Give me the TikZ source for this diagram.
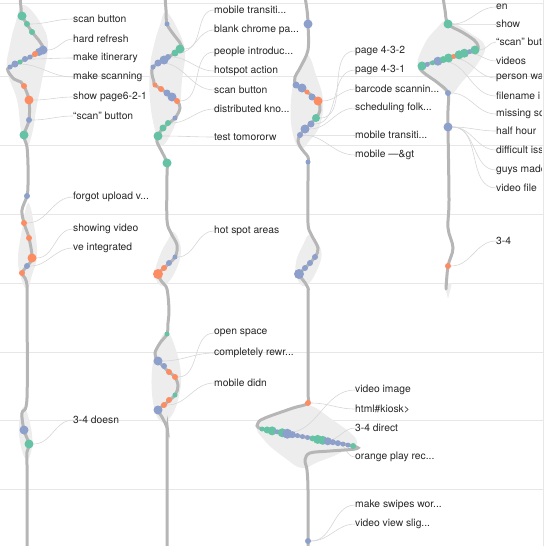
\documentclass[tikz,border=0pt]{standalone}
\usepackage{fontspec}
\setmainfont{TeX Gyre Heros}
\pgfdeclarelayer{bg}
\pgfdeclarelayer{mid}
\pgfsetlayers{bg,mid,main}
\definecolor{bl}{RGB}{141,160,203}
\definecolor{gr}{RGB}{102,194,165}
\definecolor{og}{RGB}{252,141,98}
\definecolor{spg}{RGB}{182,182,182}
\definecolor{lng}{RGB}{237,237,237}
\definecolor{rlg}{RGB}{231,231,231}
\definecolor{ldg}{RGB}{214,214,214}
\begin{document}
\begin{tikzpicture}[x=1pt,y=-1pt,
  dt/.style={circle,inner sep=0pt,minimum size=#1},
  bd/.style={dt=#1,fill=bl},gd/.style={dt=#1,fill=gr},od/.style={dt=#1,fill=og},
  lb/.style={anchor=west,inner sep=0pt,text=black!85,font=\fontsize{10.3}{12}\selectfont},
  ld/.style={draw=ldg,line width=0.6pt},
  sp/.style={draw=spg,line width=3pt,line cap=round,smooth,tension=0.55},
  ln/.style={fill=lng,smooth cycle,tension=0.7}]
\useasboundingbox (0,0) rectangle (546,546);
% rules and lenses
\begin{pgfonlayer}{bg}
\foreach \y in {3,76,145,214,283,352,420,489} \draw[rlg,line width=1pt] (0,\y) -- (543,\y);
\draw[rlg,line width=1pt] (543,0) -- (543,546);
\fill[ln] plot coordinates {(23,5) (40,22) (48,45) (42,80) (36,110) (33,130) (27,146) (21,130) (17,100) (7,70) (10,45) (15,25)};
\fill[ln] plot coordinates {(28,203) (34,225) (37,255) (32,275) (27,289) (21,278) (18,258) (22,230)};
\fill[ln] plot coordinates {(24,407) (31,428) (32,447) (27,460) (21,447) (19,425)};
\fill[ln] plot coordinates {(166,12) (178,30) (185,52) (182,80) (180,105) (175,125) (162,146) (155,130) (150,100) (150,68) (154,45) (160,25)};
\fill[ln] plot coordinates {(174,232) (181,250) (175,272) (163,286) (155,275) (160,255) (168,240)};
\fill[ln] plot coordinates {(167,332) (176,350) (181,376) (178,400) (170,418) (160,421) (153,402) (152,370) (158,345)};
\fill[ln] plot coordinates {(307,55) (316,75) (323,100) (320,125) (310,140) (300,149) (292,130) (291,100) (296,75)};
\fill[ln] plot coordinates {(310,235) (321,250) (318,268) (306,286) (297,278) (296,262) (303,245)};
\fill[ln] plot coordinates {(258,425) (285,412) (307,405) (330,418) (357,441) (340,453) (318,462) (302,468) (285,458) (265,441)};
\fill[ln] plot coordinates {(448,21) (470,33) (485,46) (478,63) (462,82) (450,94) (435,82) (418,68) (424,45) (437,28)};
\fill[lng] (444,283) -- (452,283) -- (448,299) -- cycle;
\end{pgfonlayer}
% first column
\node[gd=9] (A1) at (22,16) {}; \node[gd=6] (A2) at (27,24) {}; \node[gd=6] (A3) at (32,32) {};
\node[bd=9] (A4) at (43,50) {}; \node[bd=8] (A5) at (39,52) {}; \node[od=6] (A6) at (35,54) {};
\node[bd=5] (A7) at (30,57) {}; \node[bd=6] (A8) at (25,59) {}; \node[gd=5] (A9) at (20,62) {};
\node[bd=7] (A10) at (15,64) {}; \node[bd=5] (A11) at (10,67) {};
\node[od=6] (A12) at (24,86) {}; \node[od=9] (A13) at (29,100) {}; \node[bd=6] (A14) at (29,120) {};
\node[gd=9] (A15) at (24,135) {}; \node[bd=6] (A16) at (27,196) {};
\node[od=6] (A17) at (24,223) {}; \node[od=6] (A18) at (29,238) {}; \node[od=9] (A19) at (32,258) {};
\node[bd=6] (A20) at (27,266) {}; \node[od=6] (A21) at (22,273) {};
\node[bd=9] (A22) at (24,430) {}; \node[gd=9] (A23) at (29,444) {};
\node[lb] (a1) at (73,19) {scan button};
\node[lb] (a2) at (73,39) {hard refresh};
\node[lb] (a3) at (73,58) {make itinerary};
\node[lb] (a4) at (73,77) {make scanning};
\node[lb] (a5) at (73,97) {show page6-2-1};
\node[lb] (a6) at (73,116) {“scan” button};
\node[lb] (a7) at (73,197) {forgot upload v...};
\node[lb] (a8) at (73,229) {showing video};
\node[lb] (a9) at (73,248) {ve integrated};
\node[lb] (a10) at (73,420) {3-4 doesn};
% second column
\node[bd=5] (B1) at (167,24) {}; \node[gd=9] (B2) at (180,49) {}; \node[gd=7] (B3) at (175,53) {};
\node[bd=6] (B4) at (168,57) {}; \node[bd=9] (B5) at (164,60) {}; \node[bd=7] (B6) at (158,63) {};
\node[bd=5] (B7) at (153,67) {}; \node[od=5] (B8) at (155,85) {}; \node[od=6] (B9) at (161,89) {};
\node[bd=7] (B10) at (167,93) {}; \node[bd=9] (B11) at (172,97) {}; \node[od=6] (B12) at (177,101) {};
\node[bd=5] (B13) at (175,118) {}; \node[gd=6] (B14) at (168,123) {}; \node[gd=7] (B15) at (163,128) {};
\node[gd=9] (B16) at (158,136) {}; \node[gd=9] (B17) at (167,163) {};
\node[bd=5] (B18) at (175,257) {}; \node[bd=6] (B19) at (169,263) {}; \node[od=6] (B20) at (164,268) {};
\node[od=10] (B21) at (158,274) {}; \node[gd=5] (B22) at (167,334) {};
\node[bd=9] (B23) at (158,361) {}; \node[bd=6] (B24) at (164,366) {}; \node[od=6] (B25) at (169,372) {};
\node[od=6] (B26) at (175,377) {}; \node[gd=5] (B27) at (175,395) {}; \node[od=6] (B28) at (169,400) {};
\node[od=6] (B29) at (164,405) {}; \node[bd=9] (B30) at (158,410) {};
\node[lb] (b1) at (214,10) {mobile transiti...};
\node[lb] (b2) at (214,30) {blank chrome pa...};
\node[lb] (b3) at (214,52) {people introduc...};
\node[lb] (b4) at (214,71) {hotspot action};
\node[lb] (b5) at (214,90) {scan button};
\node[lb] (b6) at (214,109) {distributed kno...};
\node[lb] (b7) at (214,137) {test tomororw};
\node[lb] (b8) at (214,231) {hot spot areas};
\node[lb] (b9) at (214,333) {open space};
\node[lb] (b10) at (214,353) {completely rewr...};
\node[lb] (b11) at (214,383) {mobile didn};
% third column
\node[bd=9] (C1) at (308,24) {}; \node[bd=7] (C2) at (296,85) {}; \node[bd=9] (C3) at (302,88) {};
\node[od=5] (C4) at (307,92) {}; \node[bd=7] (C5) at (312,97) {}; \node[od=9] (C6) at (318,101) {};
\node[gd=8] (C7) at (316,118) {}; \node[bd=7] (C8) at (311,124) {}; \node[bd=9] (C9) at (305,129) {};
\node[bd=6] (C10) at (300,135) {}; \node[bd=5] (C11) at (308,162) {};
\node[bd=6] (C12) at (315,257) {}; \node[bd=6] (C13) at (310,263) {}; \node[bd=6] (C14) at (305,268) {};
\node[bd=10] (C15) at (299,274) {}; \node[od=6] (C16) at (308,403) {}; \node[bd=6] (C17) at (308,541) {};
\foreach \c/\s [count=\i] in {gr/5,gr/7,gr/9,bl/5,gr/9,bl/10,bl/7,bl/5,bl/5,bl/5,gr/6,gr/9,gr/9,bl/8,bl/6,bl/6,bl/5,bl/5,gr/6}
  \node[dt=\s,fill=\c] (R\i) at ({262+5.06*(\i-1)},{429+0.944*(\i-1)}) {};
\node[lb] (c1) at (355,51) {page 4-3-2};
\node[lb] (c2) at (355,70) {page 4-3-1};
\node[lb] (c3) at (355,89) {barcode scannin...};
\node[lb] (c4) at (355,108) {scheduling folk...};
\node[lb] (c5) at (355,135) {mobile transiti...};
\node[lb] (c6) at (355,155) {mobile —\&gt};
\node[lb] (c7) at (355,390) {video image};
\node[lb] (c8) at (355,409) {html\#kiosk>};
\node[lb] (c9) at (355,428) {3-4 direct};
\node[lb] (c10) at (355,457) {orange play rec...};
\node[lb] (c11) at (355,505) {make swipes wor...};
\node[lb] (c12) at (355,524) {video view slig...};
% fourth column
\node[gd=9] (D1) at (448,24) {};
\foreach \c/\s [count=\i] in {gr/9,bl/5,gr/5,bl/9,gr/7,gr/9,og/5,gr/9,gr/9,bl/5,gr/9}
  \node[dt=\s,fill=\c] (S\i) at ({422+5.3*(\i-1)},{66-1.6*(\i-1)}) {};
\node[bd=6] (D2) at (448,93) {}; \node[bd=9] (D3) at (448,127) {}; \node[od=6] (D4) at (448,266) {};
\begin{scope}
\clip (0,0) rectangle (541,546);
\node[lb] (d1) at (496,7) {en};
\node[lb] (d2) at (496,24) {show};
\node[lb] (d3) at (496,42) {“scan” but};
\node[lb] (d4) at (496,61) {videos};
\node[lb] (d5) at (496,78) {person wa};
\node[lb] (d6) at (496,96) {filename i};
\node[lb] (d7) at (496,114) {missing sc};
\node[lb] (d8) at (496,131) {half hour};
\node[lb] (d9) at (496,150) {difficult iss};
\node[lb] (d10) at (496,170) {guys made};
\node[lb] (d11) at (496,188) {video file};
\node[lb] (d12) at (496,241) {3-4};
\end{scope}
% leaders and spines
\begin{pgfonlayer}{mid}
\draw[ld] (A2) to[out=0,in=180] (a1.west); \draw[ld] (A4) to[out=0,in=180] (a2.west);
\draw[ld] (A8) to[out=0,in=180] (a3.west); \draw[ld] (A10) to[out=0,in=180] (a4.west);
\draw[ld] (A13) to[out=0,in=180] (a5.west); \draw[ld] (A14) to[out=0,in=180] (a6.west);
\draw[ld] (A17) to[out=0,in=180] (a7.west); \draw[ld] (A19) to[out=0,in=180] (a8.west);
\draw[ld] (A20) to[out=0,in=180] (a9.west); \draw[ld] (A23) to[out=0,in=180] (a10.west);
\draw[ld] (B2) to[out=0,in=180] (b1.west); \draw[ld] (B3) to[out=0,in=180] (b2.west);
\draw[ld] (B12) to[out=0,in=180] (b3.west); \draw[ld] (B4) to[out=0,in=180] (b4.west);
\draw[ld] (B6) to[out=0,in=180] (b5.west); \draw[ld] (B14) to[out=0,in=180] (b6.west);
\draw[ld] (B16) to[out=0,in=180] (b7.west); \draw[ld] (B18) to[out=0,in=180] (b8.west);
\draw[ld] (B26) to[out=0,in=180] (b9.west); \draw[ld] (B23) to[out=0,in=180] (b10.west);
\draw[ld] (B29) to[out=0,in=180] (b11.west);
\draw[ld] (C7) to[out=0,in=180] (c1.west); \draw[ld] (C8) to[out=0,in=180] (c2.west);
\draw[ld] (C6) to[out=0,in=180] (c3.west); \draw[ld] (C9) to[out=0,in=180] (c4.west);
\draw[ld] (C10) to[out=0,in=180] (c5.west); \draw[ld] (C10) to[out=0,in=180] (c6.west);
\draw[ld] (R5) to[out=0,in=180] (c7.west); \draw[ld] (C16) to[out=0,in=180] (c8.west);
\draw[ld] (R13) to[out=0,in=180] (c9.west); \draw[ld] (R15) to[out=0,in=180] (c10.west);
\draw[ld] (C17) to[out=0,in=180] (c11.west); \draw[ld] (C17) to[out=0,in=180] (c12.west);
\draw[ld] (D1) to[out=0,in=180] (d1.west); \draw[ld] (D1) to[out=0,in=180] (d2.west);
\draw[ld] (S11) to[out=0,in=180] (d3.west); \draw[ld] (S9) to[out=0,in=180] (d4.west);
\draw[ld] (S6) to[out=0,in=180] (d5.west); \draw[ld] (S4) to[out=0,in=180] (d6.west);
\draw[ld] (D2) to[out=0,in=180] (d7.west); \draw[ld] (D3) to[out=0,in=180] (d8.west);
\draw[ld] (D3) to[out=0,in=180] (d9.west); \draw[ld] (D3) to[out=0,in=180] (d10.west);
\draw[ld] (D3) to[out=0,in=180] (d11.west); \draw[ld] (D4) to[out=0,in=180] (d12.west);
\draw[sp] plot coordinates {(20,-3) (21,8) (A1.center) (A2.center) (A3.center) (40,42) (A4.center) (A7.center) (A11.center) (8,71) (14,79) (21,82) (A12.center) (A13.center) (A14.center) (A15.center) (27,147) (28,165) (28,185) (A16.center) (22,210) (A17.center) (A18.center) (A19.center) (A20.center) (A21.center) (25,278) (27,285) (27,300) (27,398) (22,413) (A22.center) (A23.center) (27,452) (27,465) (27,549)};
\draw[sp] plot coordinates {(165,-3) (166,10) (B1.center) (174,35) (180,43) (B2.center) (B5.center) (B7.center) (152,74) (154,82) (B8.center) (B10.center) (B12.center) (180,108) (B13.center) (B15.center) (B16.center) (157,142) (161,150) (B17.center) (167,175) (167,220) (171,233) (177,245) (B18.center) (B20.center) (B21.center) (162,282) (167,289) (169,310) (168,323) (B22.center) (160,343) (155,353) (B23.center) (B25.center) (B26.center) (178,386) (B27.center) (B29.center) (B30.center) (162,417) (167,428) (167,440) (167,549)};
\draw[sp] plot coordinates {(305,-3) (307,10) (C1.center) (308,50) (300,68) (295,77) (C2.center) (C4.center) (C6.center) (320,110) (C7.center) (C9.center) (C10.center) (298,141) (301,148) (308,157) (C11.center) (308,180) (308,223) (311,234) (318,248) (C12.center) (C14.center) (C15.center) (303,280) (308,288) (308,300) (308,390) (C16.center) (293,408) (265,418) (258,423) (R1.center) (R10.center) (R19.center) (355,449) (330,451) (310,453) (305,460) (307,470) (308,490) (C17.center) (308,549)};
\draw[sp] plot coordinates {(443,-3) (445,10) (D1.center) (462,32) (474,40) (478,46) (S11.center) (S6.center) (S1.center) (423,72) (438,83) (D2.center) (448,110) (D3.center) (449,200) (448,228) (453,248) (D4.center) (446,289)};
\end{pgfonlayer}
\end{tikzpicture}
\end{document}
